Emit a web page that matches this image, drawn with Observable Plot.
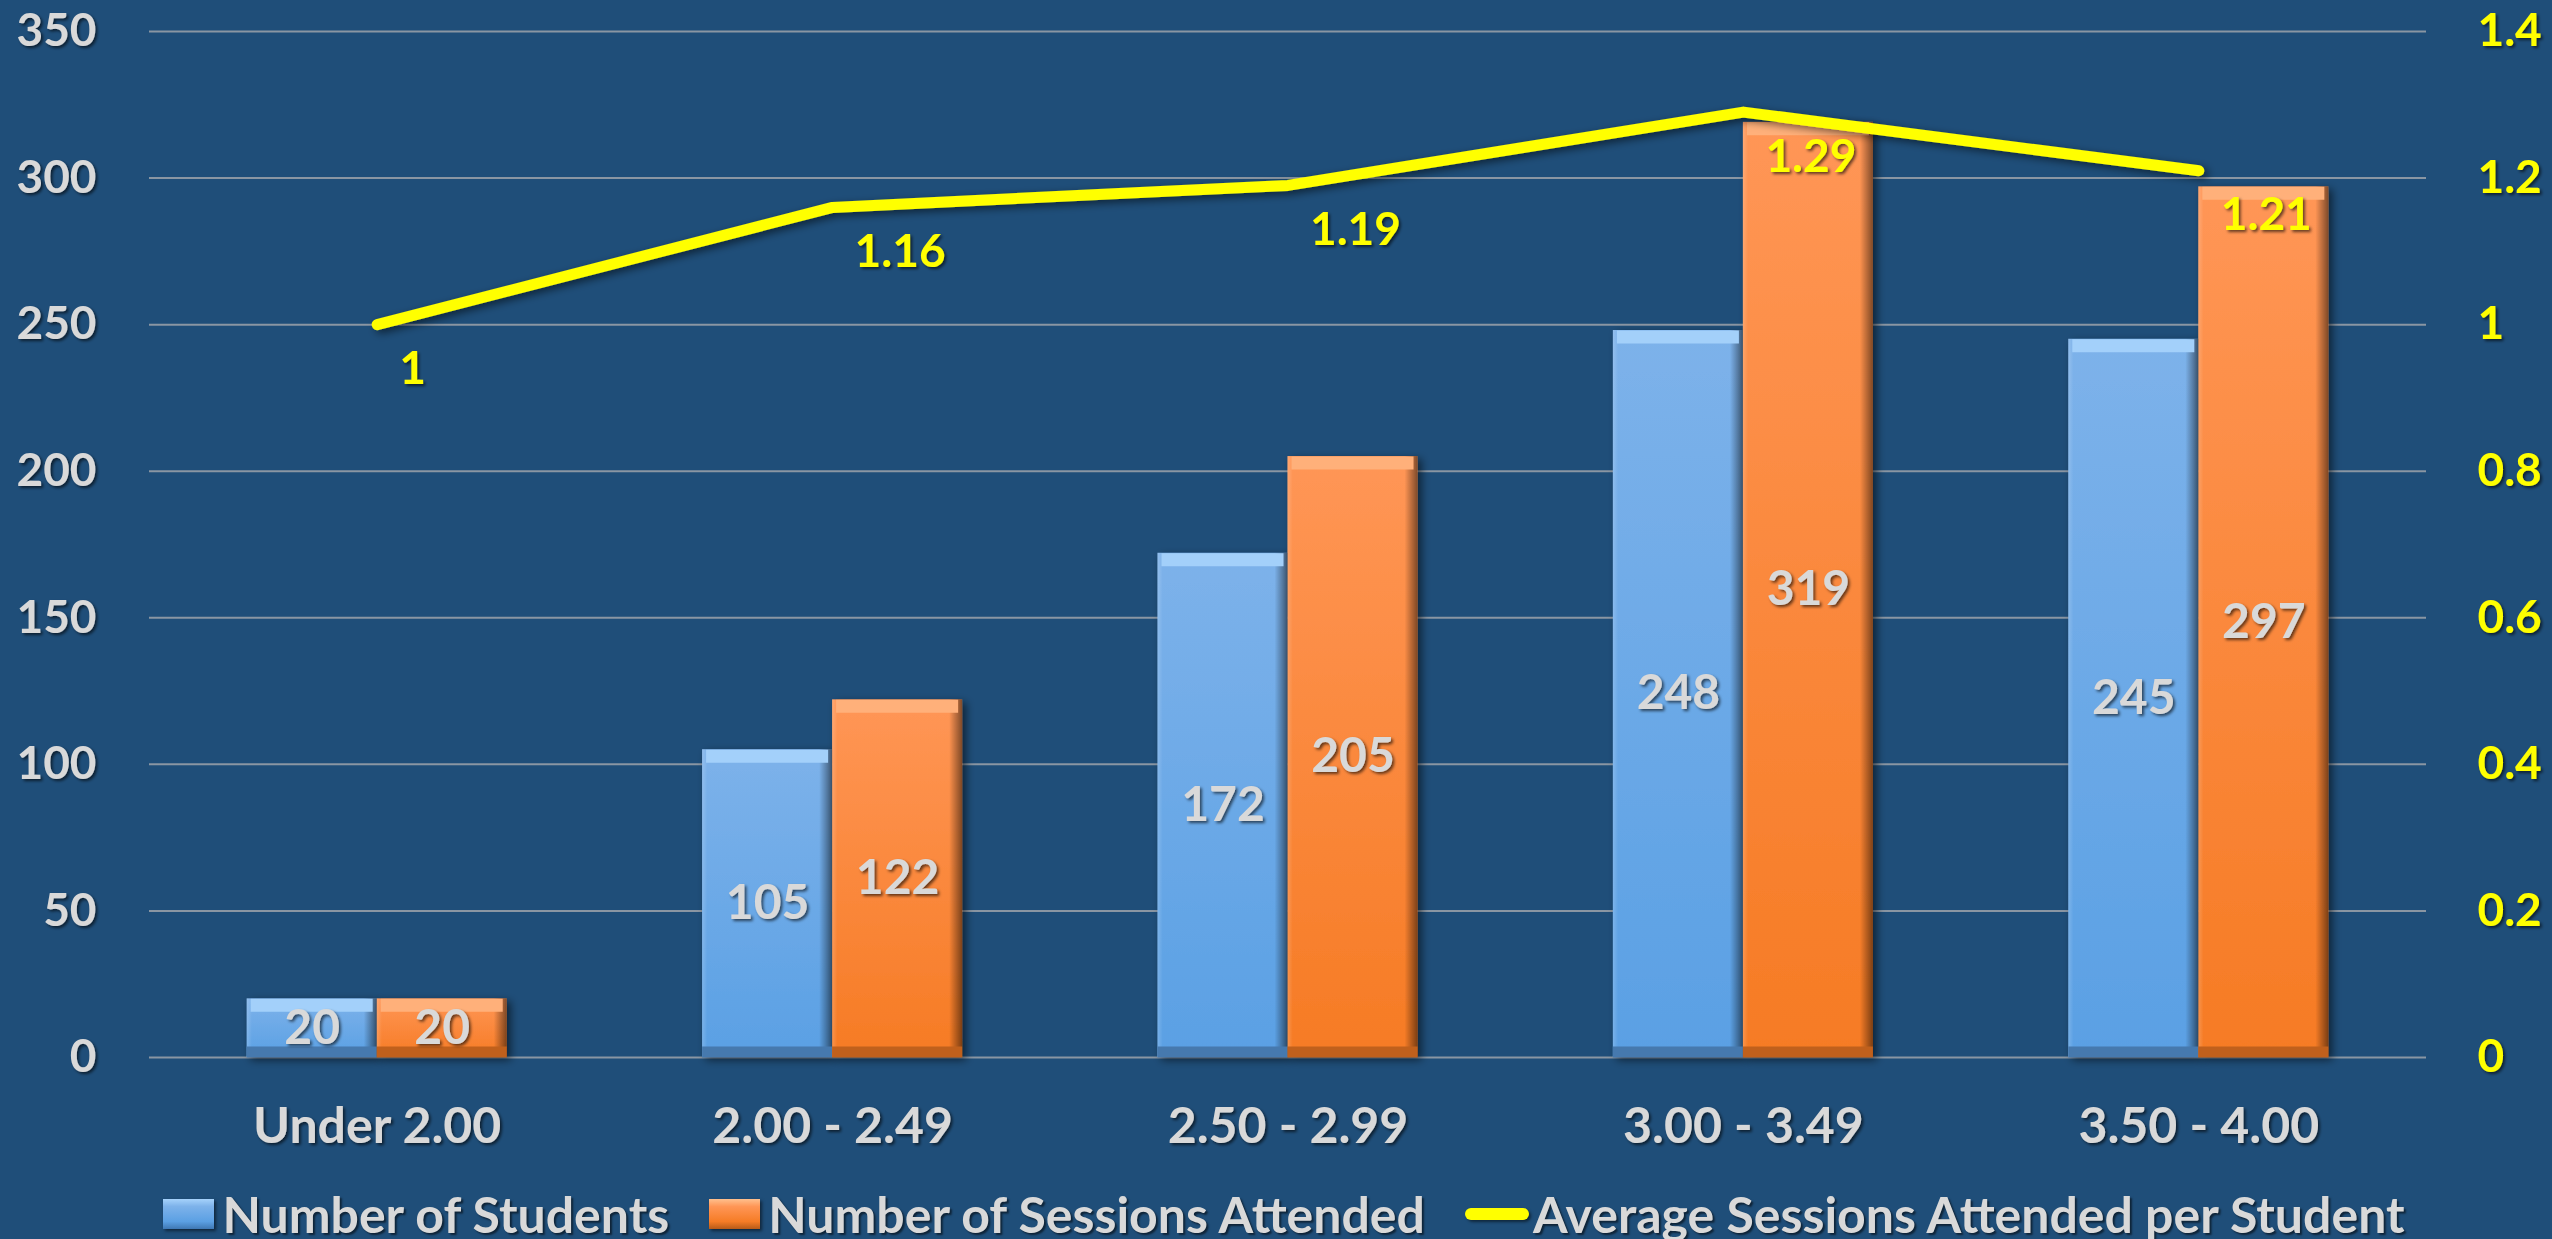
<!DOCTYPE html>
<html>
<head>
<meta charset="utf-8">
<script src="https://cdn.jsdelivr.net/npm/d3@7"></script>
<script src="https://cdn.jsdelivr.net/npm/@observablehq/plot@0.6"></script>
<style>
  html, body { margin: 0; padding: 0; background: #1F4E79; width: 2552px; height: 1239px; overflow: hidden; }
  #wrap { position: relative; width: 2552px; height: 1239px; }
  #legend { position: absolute; left: 8px; top: 1185px; width: 2552px; height: 58px; display: flex; justify-content: center; align-items: center;
            font-family: Lato, "Open Sans", sans-serif; font-weight: 700; font-size: 50px; color: #d9d9d9; text-shadow: 2px 2px 2px rgba(0,0,0,0.55); white-space: nowrap; }
  #legend .sw { display: inline-block; width: 51px; height: 30px; margin-right: 8px; box-shadow: 2px 2px 3px rgba(0,0,0,0.5); }
  #legend .sw.blue { background: linear-gradient(to bottom, #a6d2fb 0%, #7db2ea 25%, #5ba0e3 75%, #3f78b4 100%); }
  #legend .sw.orange { background: linear-gradient(to bottom, #ffc08e 0%, #ff9656 25%, #f67c26 75%, #b85a18 100%); }
  #legend .ln { display: inline-block; width: 64px; height: 12px; border-radius: 6px; background: #FFFF00; margin-right: 4px; box-shadow: 2px 2px 3px rgba(0,0,0,0.5); }
  #legend .item { display: inline-flex; align-items: center; margin-right: 40px; }
  #legend .item:last-child { margin-right: 0; }
</style>
</head>
<body>
<div id="wrap">
  <div id="chart"></div>
  <div id="legend"></div>
</div>
<script>
// ---- data ----
const categories = ["Under 2.00", "2.00 - 2.49", "2.50 - 2.99", "3.00 - 3.49", "3.50 - 4.00"];
const students = [20, 105, 172, 248, 245];
const sessions = [20, 122, 205, 319, 297];
const avgSessions = [1, 1.16, 1.19, 1.29, 1.21];
const seriesNames = ["Number of Students", "Number of Sessions Attended", "Average Sessions Attended per Student"];
const leftTicks = [0, 50, 100, 150, 200, 250, 300, 350];
const rightTicks = [0, 0.2, 0.4, 0.6, 0.8, 1, 1.2, 1.4];

// secondary axis mapped onto the primary scale
const ratio = leftTicks[leftTicks.length - 1] / rightTicks[rightTicks.length - 1];
const half = 0.2855; // bar width as a fraction of the category step

const studentRows = categories.map((c, i) => ({i, value: students[i], x1: i - half, x2: i, mid: i - half / 2}));
const sessionRows = categories.map((c, i) => ({i, value: sessions[i], x1: i, x2: i + half, mid: i + half / 2}));
const allBars = studentRows.concat(sessionRows);
const lineRows = categories.map((c, i) => ({i, y: avgSessions[i] * ratio, label: String(avgSessions[i])}));

const font = "Lato, 'Open Sans', sans-serif";
const grey = "#d9d9d9";

const chart = Plot.plot({
  width: 2552,
  height: 1180,
  marginLeft: 149,
  marginRight: 126,
  marginTop: 31,
  marginBottom: 123,
  style: {background: "#1F4E79", fontFamily: font, overflow: "visible"},
  x: {type: "linear", domain: [-0.5, categories.length - 0.5]},
  y: {domain: [0, leftTicks[leftTicks.length - 1]]},
  marks: [
    Plot.gridY({ticks: leftTicks, stroke: "#8a96a3", strokeOpacity: 1, strokeWidth: 2}),
    // bars
    Plot.rect(studentRows, {x1: "x1", x2: "x2", y1: 0, y2: "value", fill: "url(#gBlue)"}),
    Plot.rect(sessionRows, {x1: "x1", x2: "x2", y1: 0, y2: "value", fill: "url(#gOrange)"}),
    Plot.rect(allBars, {x1: "x1", x2: "x2", y1: 0, y2: "value", fill: "url(#gEdge)"}),
    // bevels
    Plot.ruleY(studentRows, {y: "value", x1: "x1", x2: "x2", stroke: "#a3d0fa", strokeWidth: 13, dy: 6.5, insetLeft: 4, insetRight: 4}),
    Plot.ruleY(sessionRows, {y: "value", x1: "x1", x2: "x2", stroke: "#ffb07a", strokeWidth: 13, dy: 6.5, insetLeft: 4, insetRight: 4}),
    Plot.ruleY(studentRows, {y: 0, x1: "x1", x2: "x2", stroke: "#4679ae", strokeWidth: 11, dy: -5.5}),
    Plot.ruleY(sessionRows, {y: 0, x1: "x1", x2: "x2", stroke: "#c0601c", strokeWidth: 11, dy: -5.5}),
    // bar labels
    Plot.text(allBars, {x: "mid", y: d => d.value / 2, text: d => String(d.value), fill: grey, fontSize: 48, fontWeight: 700, fontFamily: font}),
    // line
    Plot.line(lineRows, {x: "i", y: "y", stroke: "#FFFF00", strokeWidth: 11, strokeLinecap: "round", strokeLinejoin: "round"}),
    Plot.text(lineRows, {x: "i", y: "y", text: "label", fill: "#FFFF00", fontSize: 46, fontWeight: 700, fontFamily: font, textAnchor: "start", dx: 22, dy: 45}),
    // axes
    Plot.axisY({anchor: "left", ticks: leftTicks, tickSize: 0, tickPadding: 53, label: null, fill: grey, fontSize: 46, fontWeight: 700, fontFamily: font}),
    Plot.axisY({anchor: "right", ticks: rightTicks.map(v => v * ratio), tickFormat: d => String(+(d / ratio).toFixed(2)), tickSize: 0, tickPadding: 51, label: null, fill: "#FFFF00", fontSize: 46, fontWeight: 700, fontFamily: font}),
    Plot.axisX({ticks: categories.map((c, i) => i), tickFormat: i => categories[i], tickSize: 0, tickPadding: 50, label: null, fill: grey, fontSize: 50, fontWeight: 700, fontFamily: font})
  ]
});

document.getElementById("chart").appendChild(chart);

// gradients and shadows
const svg = d3.select(chart);
const defs = svg.insert("defs", ":first-child");
function vgrad(id, stops) {
  const g = defs.append("linearGradient").attr("id", id).attr("x1", 0).attr("y1", 0).attr("x2", 0).attr("y2", 1);
  stops.forEach(([o, c]) => g.append("stop").attr("offset", o).attr("stop-color", c));
}
vgrad("gBlue", [[0, "#7db2ea"], [1, "#5aa0e4"]]);
vgrad("gOrange", [[0, "#ff9656"], [1, "#f67b24"]]);
const ge = defs.append("linearGradient").attr("id", "gEdge").attr("x1", 0).attr("y1", 0).attr("x2", 1).attr("y2", 0);
[[0, "#ffffff", 0.18], [0.04, "#ffffff", 0], [0.9, "#000000", 0], [1, "#000000", 0.5]].forEach(([o, c, a]) =>
  ge.append("stop").attr("offset", o).attr("stop-color", c).attr("stop-opacity", a));
const fs = defs.append("filter").attr("id", "barShadow").attr("x", "-20%").attr("y", "-20%").attr("width", "140%").attr("height", "140%");
fs.append("feDropShadow").attr("dx", 4).attr("dy", 3).attr("stdDeviation", 4).attr("flood-color", "#000").attr("flood-opacity", 0.55);
const ft = defs.append("filter").attr("id", "textShadow").attr("x", "-20%").attr("y", "-20%").attr("width", "140%").attr("height", "140%");
ft.append("feDropShadow").attr("dx", 2).attr("dy", 2).attr("stdDeviation", 1.5).attr("flood-color", "#000").attr("flood-opacity", 0.6);

const rectGroups = svg.selectAll("g[aria-label='rect']").nodes();
rectGroups.slice(0, 2).forEach(n => n.setAttribute("filter", "url(#barShadow)"));
svg.selectAll("g[aria-label='line']").attr("filter", "url(#barShadow)");
svg.selectAll("text").attr("filter", "url(#textShadow)");

// legend
const legend = d3.select("#legend");
const cls = ["sw blue", "sw orange", "ln"];
seriesNames.forEach((name, k) => {
  const item = legend.append("span").attr("class", "item");
  item.append("span").attr("class", cls[k]);
  item.append("span").text(name);
});
</script>
</body>
</html>
